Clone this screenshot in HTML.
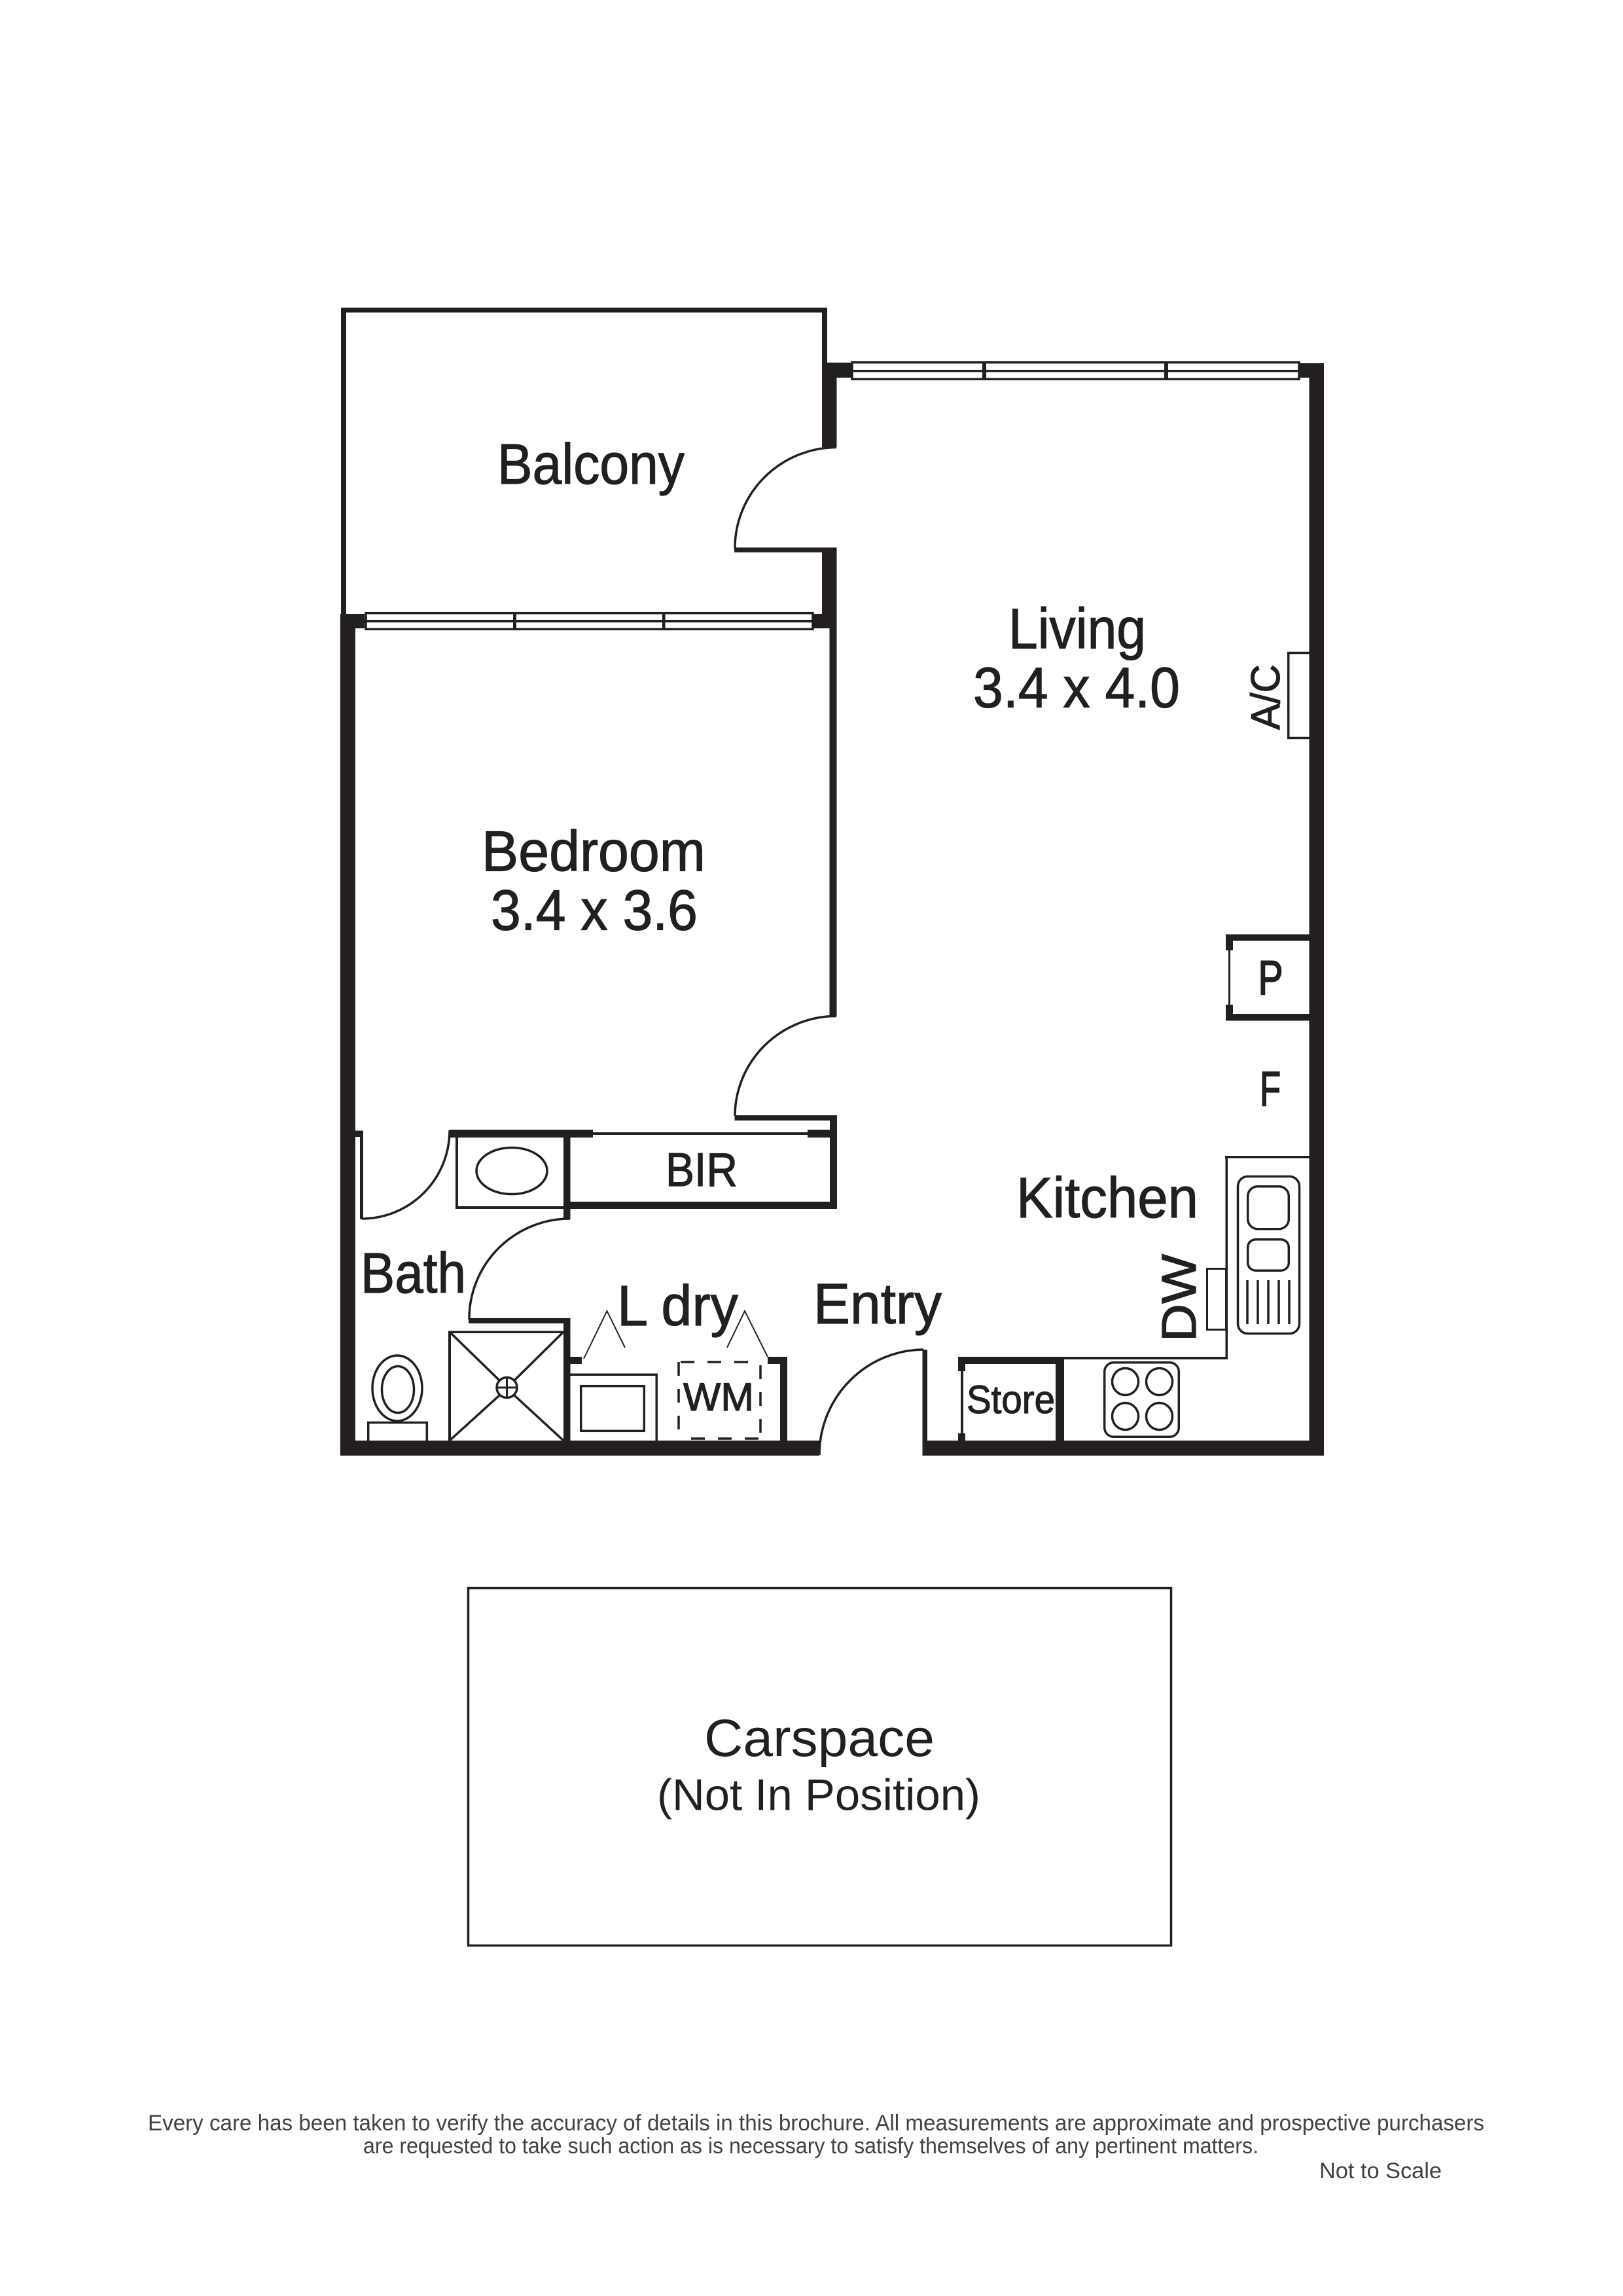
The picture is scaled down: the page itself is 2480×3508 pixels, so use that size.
<!DOCTYPE html>
<html><head><meta charset="utf-8"><style>
html,body{margin:0;padding:0;background:#fff}
svg{display:block}
text{font-family:"Liberation Sans",sans-serif;fill:#231f20}
.m{stroke:#231f20;stroke-width:1.2px}
.h{stroke:#231f20;stroke-width:2px}
</style></head><body>
<svg xmlns="http://www.w3.org/2000/svg" width="2480" height="3508" viewBox="0 0 2480 3508">
<rect width="2480" height="3508" fill="#fff"/>
<g fill="#231f20">
<!-- balcony -->
<rect x="521" y="470" width="743" height="7.5"/>
<rect x="521" y="470" width="8" height="470"/>
<rect x="1256" y="470" width="8" height="90"/>
<!-- wall between balcony and living -->
<rect x="1256" y="554" width="48" height="23"/>
<rect x="1256" y="554" width="22.5" height="129"/>
<rect x="1122" y="836.5" width="156.5" height="7.5"/>
<rect x="1256" y="843" width="22.5" height="117"/>
<rect x="1243" y="938" width="35.5" height="22"/>
<rect x="1267.5" y="958" width="11" height="594"/>
<rect x="1985" y="555" width="38" height="22"/>
<rect x="2000.5" y="555" width="22.5" height="1669"/>
<!-- bedroom left and bottom -->
<rect x="520" y="938" width="37" height="22"/>
<rect x="520" y="938" width="23" height="1286"/>
<rect x="520" y="2201" width="732" height="23"/>
<rect x="1409.5" y="2201" width="613.5" height="23"/>
<!-- bedroom door wall, BIR -->
<rect x="1122.5" y="1704" width="156" height="8"/>
<rect x="1268" y="1704" width="11" height="143"/>
<rect x="861" y="1836" width="418" height="11"/>
<rect x="687" y="1726" width="219" height="12"/>
<rect x="906" y="1730" width="328" height="4"/>
<rect x="1234" y="1726" width="34" height="12"/>
<rect x="861" y="1726" width="10.5" height="137"/>
<rect x="696" y="1738" width="4" height="109"/>
<rect x="696" y="1843" width="165" height="4"/>
<rect x="543" y="1727.5" width="12" height="9.5"/>
<rect x="550" y="1737" width="5" height="126"/>
<!-- bath/laundry walls -->
<rect x="716" y="2014" width="155.5" height="8"/>
<rect x="861" y="2014" width="10.5" height="190"/>
<rect x="871" y="2073" width="18" height="11"/>
<rect x="1173" y="2073" width="30" height="11"/>
<rect x="1192" y="2073" width="11" height="130"/>
<rect x="685" y="2033.5" width="4" height="168"/>
<rect x="685" y="2033.5" width="176" height="3.5"/>
<!-- laundry counter -->
<rect x="871" y="2098.5" width="134" height="3.5"/>
<rect x="1001.5" y="2098.5" width="3.5" height="103"/>
<!-- entry wall, store -->
<rect x="1409.5" y="2062" width="7.5" height="140"/>
<rect x="1464" y="2073" width="162" height="11"/>
<rect x="1464" y="2084" width="11" height="11"/>
<rect x="1468" y="2095" width="4" height="95"/>
<rect x="1464" y="2190" width="11" height="11"/>
<rect x="1613" y="2073" width="13" height="130"/>
<!-- kitchen counter -->
<rect x="1625" y="2073" width="251" height="4"/>
<rect x="1872.5" y="1766" width="3.5" height="311"/>
<rect x="1872" y="1766" width="129" height="3.5"/>
<!-- P cupboard -->
<rect x="1873" y="1427.5" width="128" height="10"/>
<rect x="1873" y="1549" width="128" height="10.5"/>
<rect x="1873" y="1427.5" width="11" height="24.5"/>
<rect x="1873" y="1535" width="11" height="24.5"/>
<rect x="1877" y="1452" width="3" height="83"/>
</g>

<!-- windows -->
<g fill="#fff" stroke="#231f20" stroke-width="3.5">
<rect x="559" y="936.7" width="683" height="24.6"/>
<rect x="1302" y="553.7" width="683" height="25.6"/>
</g>
<g fill="#231f20">
<rect x="557" y="947" width="687" height="4"/>
<rect x="784" y="935" width="5" height="28"/>
<rect x="1012" y="935" width="4.5" height="28"/>
<rect x="1300" y="565" width="687" height="3.5"/>
<rect x="1501" y="552" width="6" height="29"/>
<rect x="1779" y="552" width="6" height="29"/>
</g>

<!-- doors and fixtures -->
<g fill="none" stroke="#231f20" stroke-width="3.5">
<path d="M1278 683.5 A156 154 0 0 0 1123 838"/>
<path d="M1278 1552.5 A155 153 0 0 0 1123 1705"/>
<path d="M553 1862 A134 135 0 0 0 687 1727" />
<path d="M871 1862 A154 153 0 0 0 717 2016" />
<path d="M1411 2062 A160 161 0 0 0 1252 2223" />
<!-- basin -->
<ellipse cx="782" cy="1789" rx="54" ry="35.5"/>
<!-- toilet -->
<ellipse cx="607" cy="2121" rx="38" ry="50"/>
<ellipse cx="608" cy="2123" rx="24.5" ry="35.5"/>
<rect x="562.7" y="2173.5" width="89.6" height="30"/>
<!-- shower -->
<path d="M687 2035 L763 2109 M861 2035 L786 2109 M763 2132 L687 2201 M786 2132 L861 2201" stroke-width="3.5"/>
<circle cx="774.5" cy="2120" r="15.5"/>
<path d="M759 2120 H790 M774.5 2104.5 V2135.5" stroke-width="3"/>
<!-- laundry -->
<rect x="887.7" y="2117.7" width="96.6" height="68.6"/>
<path d="M1037 2081 V2198 M1162 2086 V2198 M1040 2081 H1162 M1056 2198 H1162" stroke-dasharray="21 20" />
<path d="M892 2076 L927.5 2003 L955 2059 M1111 2059 L1138 2003 L1173 2073" stroke-width="2"/>
<!-- sink -->
<rect x="1891.5" y="1797.5" width="94" height="240" rx="15" ry="15"/>
<rect x="1906.7" y="1812.7" width="62.6" height="65" rx="15" ry="15"/>
<rect x="1906.7" y="1893.7" width="62.6" height="47.5" rx="12" ry="12"/>
<path d="M1906 1956 V2023 M1922 1956 V2023 M1938 1956 V2023 M1954 1956 V2023 M1970 1956 V2023"/>
<!-- dishwasher -->
<rect x="1844.5" y="1938.5" width="29" height="93" stroke-width="3"/>
<!-- cooktop -->
<rect x="1687.7" y="2081.7" width="113.6" height="113.6" rx="14" ry="14"/>
<ellipse cx="1719.5" cy="2111" rx="20" ry="20.5"/>
<ellipse cx="1771.5" cy="2111" rx="20" ry="20.5"/>
<ellipse cx="1719.5" cy="2164" rx="20" ry="20.5"/>
<ellipse cx="1771.5" cy="2164" rx="20" ry="20.5"/>
<!-- A/C -->
<path d="M2001 997.5 H1968.7 V1127.5 H2001" />
<!-- carspace -->
<rect x="715.5" y="2426.5" width="1074" height="546" stroke-width="3.5"/>
</g>

<!-- labels -->
<g font-size="87" class="m">
<text x="760" y="739" textLength="286" lengthAdjust="spacingAndGlyphs">Balcony</text>
<text x="1541" y="990.7" textLength="210" lengthAdjust="spacingAndGlyphs">Living</text>
<text x="1487" y="1080.7" textLength="316" lengthAdjust="spacingAndGlyphs">3.4 x 4.0</text>
<text x="736" y="1330.7" textLength="342" lengthAdjust="spacingAndGlyphs">Bedroom</text>
<text x="750" y="1420.7" textLength="316" lengthAdjust="spacingAndGlyphs">3.4 x 3.6</text>
<text x="551" y="1975" textLength="161" lengthAdjust="spacingAndGlyphs">Bath</text>
<text x="943" y="2025" textLength="185" lengthAdjust="spacingAndGlyphs">L dry</text>
<text x="1243" y="2022" textLength="196" lengthAdjust="spacingAndGlyphs">Entry</text>
<text x="1553" y="1860" textLength="278" lengthAdjust="spacingAndGlyphs">Kitchen</text>
</g>
<text class="m" x="1017" y="1812" font-size="72" textLength="110" lengthAdjust="spacingAndGlyphs">BIR</text>
<text class="m" x="1044" y="2155" font-size="60" textLength="108" lengthAdjust="spacingAndGlyphs">WM</text>
<text class="m" x="1477" y="2159" font-size="60" textLength="135" lengthAdjust="spacingAndGlyphs">Store</text>
<text class="h" x="1925" y="1689" font-size="74" textLength="32" lengthAdjust="spacingAndGlyphs">F</text>
<text class="h" x="1922.5" y="1519" font-size="73" textLength="38" lengthAdjust="spacingAndGlyphs">P</text>
<text class="m" transform="translate(1827 2050) rotate(-90)" font-size="74" textLength="134" lengthAdjust="spacingAndGlyphs">DW</text>
<text class="m" transform="translate(1955 1115) rotate(-90)" font-size="62" textLength="100" lengthAdjust="spacingAndGlyphs">A/C</text>

<text x="1076" y="2683" font-size="81" textLength="352" lengthAdjust="spacingAndGlyphs">Carspace</text>
<text x="1004" y="2765.5" font-size="68" textLength="494" lengthAdjust="spacingAndGlyphs">(Not In Position)</text>

<text x="226" y="3255" font-size="34" fill-opacity=".85" textLength="2042" lengthAdjust="spacingAndGlyphs">Every care has been taken to verify the accuracy of details in this brochure. All measurements are approximate and prospective purchasers</text>
<text x="555" y="3290" font-size="34" fill-opacity=".85" textLength="1368" lengthAdjust="spacingAndGlyphs">are requested to take such action as is necessary to satisfy themselves of any pertinent matters.</text>
<text x="2016" y="3328" font-size="34" fill-opacity=".85" textLength="187" lengthAdjust="spacingAndGlyphs">Not to Scale</text>
</svg>
</body></html>
